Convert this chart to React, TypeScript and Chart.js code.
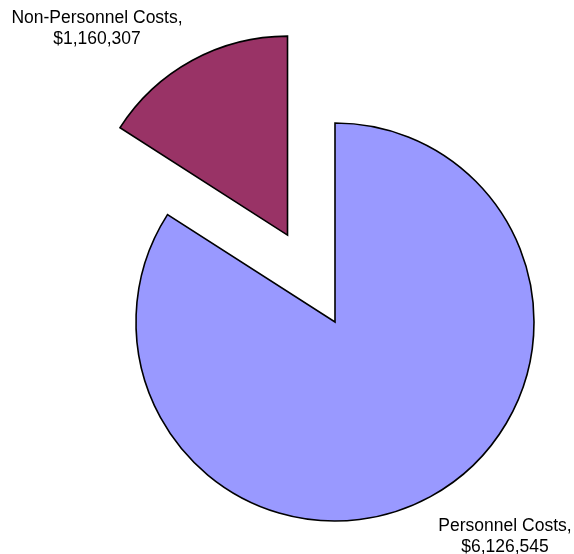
import React, { useEffect, useRef } from "react";
import { Chart, registerables } from "chart.js";

Chart.register(...registerables);

const categories: string[] = ["Personnel Costs", "Non-Personnel Costs"];
const values: number[] = [6126545, 1160307];
const sliceColors: string[] = ["#9999FF", "#993366"];

const formatMoney = (v: number) => "$" + v.toLocaleString("en-US");

// Pull the smaller slice out along its bisector (Excel-style explosion)
const explodePlugin = {
  id: "explodeSlice",
  afterDatasetsUpdate(chart: any) {
    const meta = chart.getDatasetMeta(0);
    const arc = meta.data[1];
    if (!arc) return;
    const dist = 99;
    const mid = (arc.startAngle + arc.endAngle) / 2;
    arc.x += Math.cos(mid) * dist;
    arc.y += Math.sin(mid) * dist;
  },
};

const labelPlugin = {
  id: "sliceLabels",
  afterDraw(chart: any) {
    const ctx = chart.ctx;
    ctx.save();
    ctx.fillStyle = "#000000";
    ctx.font = "17.5px 'Liberation Sans', Arial, sans-serif";
    ctx.textAlign = "center";
    ctx.textBaseline = "alphabetic";
    const spots = [
      { x: 505, y1: 530.7, y2: 552 },
      { x: 97, y1: 22.7, y2: 44 },
    ];
    categories.forEach((c, i) => {
      const s = spots[i];
      ctx.fillText(c + ",", s.x, s.y1);
      ctx.fillText(formatMoney(values[i]), s.x, s.y2);
    });
    ctx.restore();
  },
};

export default function App() {
  const ref = useRef<HTMLCanvasElement | null>(null);
  useEffect(() => {
    if (!ref.current) return;
    const chart = new Chart(ref.current, {
      type: "pie",
      data: {
        labels: categories,
        datasets: [
          {
            data: values,
            backgroundColor: sliceColors,
            borderColor: "#000000",
            borderWidth: 1.6,
            borderJoinStyle: "miter",
            hoverOffset: 0,
          },
        ],
      },
      options: {
        animation: false,
        responsive: false,
        events: [],
        radius: 199,
        rotation: 0,
        layout: { padding: { left: 136, right: 40, top: 122, bottom: 32 } },
        plugins: {
          legend: { display: false },
          tooltip: { enabled: false },
        },
      },
      plugins: [explodePlugin, labelPlugin],
    });
    return () => chart.destroy();
  }, []);
  return (
    <div style={{ position: "absolute", left: 0, top: 0, width: 574, height: 554, background: "#ffffff" }}>
      <canvas ref={ref} width={574} height={554} style={{ width: 574, height: 554 }} />
    </div>
  );
}
